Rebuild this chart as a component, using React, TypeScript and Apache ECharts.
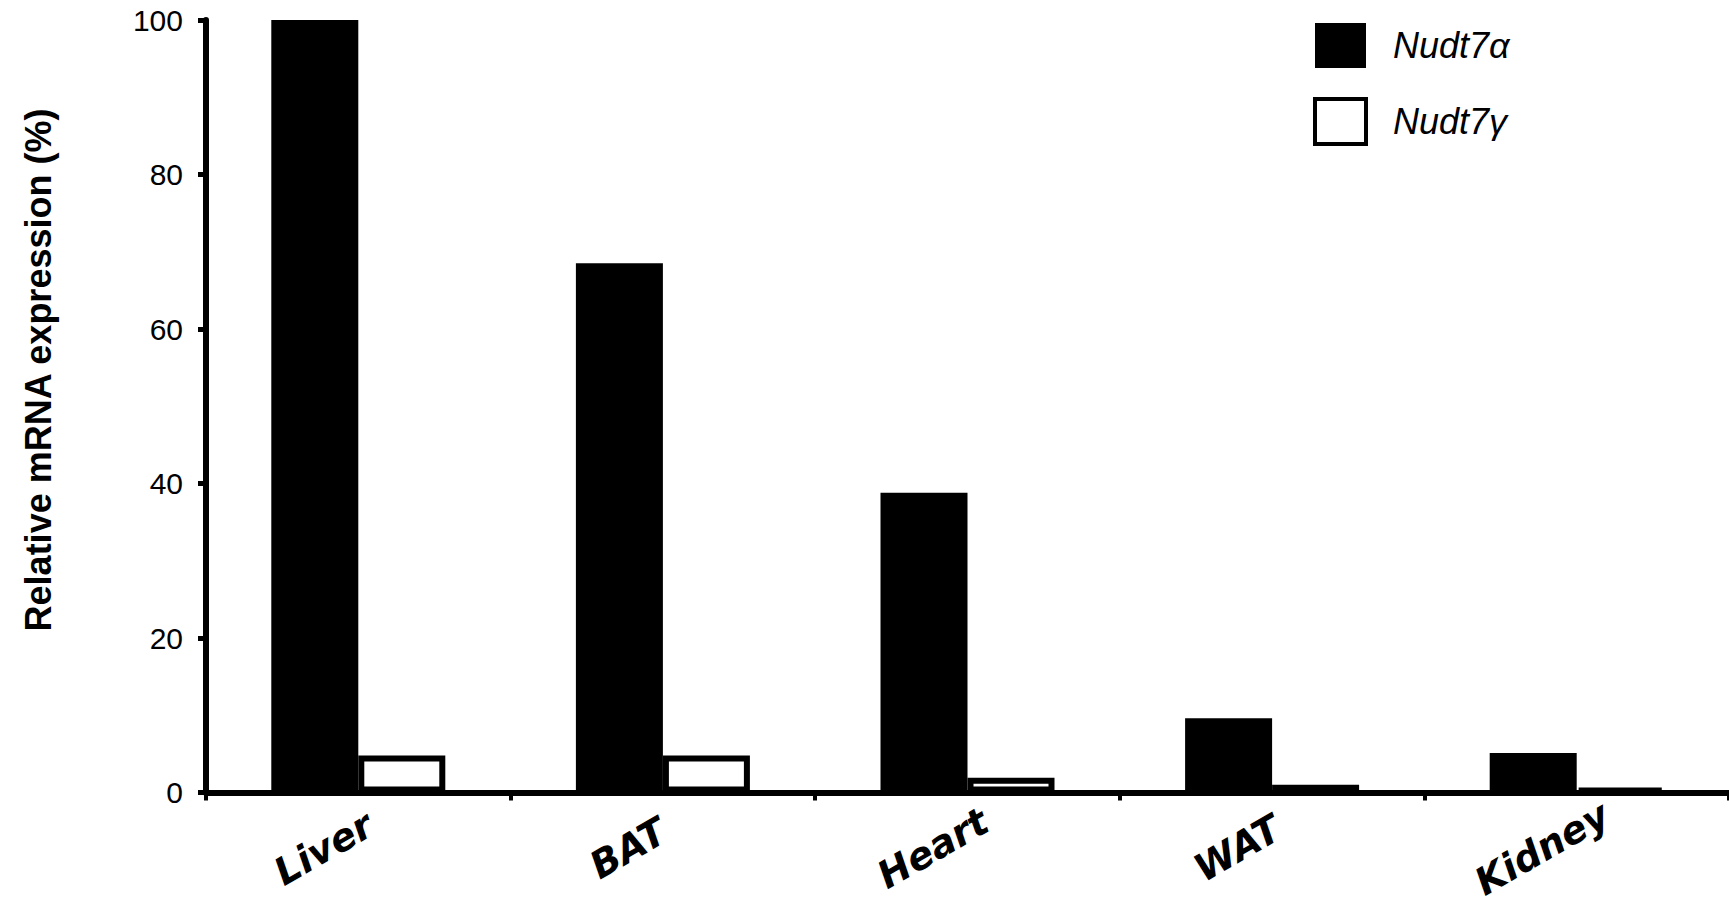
import React, { useEffect, useRef } from "react";
import * as echarts from "echarts";

const categories = ["Liver", "BAT", "Heart", "WAT", "Kidney"];
const alphaValues = [100, 68.5, 38.8, 9.6, 5.1];
const gammaValues = [4.8, 4.8, 1.9, 1.0, 0.5];
const seriesNames = ["Nudt7\u03b1", "Nudt7\u03b3"];
const yTitle = "Relative mRNA expression (%)";
const yMin = 0;
const yMax = 100;
const yInterval = 20;

const FONT = "'Liberation Sans', Arial, Helvetica, sans-serif";
const LABEL_FONT = "'DejaVu Sans', Verdana, sans-serif";

export default function App() {
  const ref = useRef<HTMLDivElement>(null);
  useEffect(() => {
    if (!ref.current) return;
    const chart = echarts.init(ref.current, undefined, { renderer: "svg" });
    chart.setOption({
      animation: false,
      backgroundColor: "#fff",
      grid: { left: 206, right: -7, top: 20, bottom: 127.5, containLabel: false },
      legend: {
        orient: "vertical",
        left: 1313,
        top: 23,
        padding: 0,
        itemWidth: 51,
        itemHeight: 45,
        itemGap: 29,
        icon: "rect",
        selectedMode: false,
        textStyle: {
          fontSize: 36,
          fontStyle: "italic",
          fontFamily: FONT,
          color: "#000",
          padding: [0, 0, 0, 22],
        },
        data: [
          { name: seriesNames[0], itemStyle: { color: "#000", borderWidth: 0 } },
          { name: seriesNames[1], itemStyle: { color: "#fff", borderColor: "#000", borderWidth: 4 } },
        ],
      },
      xAxis: {
        type: "category",
        data: categories,
        axisLine: { show: true, lineStyle: { color: "#000", width: 6 } },
        axisTick: { show: true, length: 8, lineStyle: { color: "#000", width: 4 } },
        axisLabel: {
          rotate: 30,
          align: "center",
          verticalAlign: "middle",
          padding: [0, 80, 0, 0],
          margin: 36,
          fontSize: 38,
          fontWeight: "bold",
          fontStyle: "italic",
          fontFamily: LABEL_FONT,
          color: "#000",
          interval: 0,
        },
        splitLine: { show: false },
      },
      yAxis: {
        type: "value",
        min: yMin,
        max: yMax,
        interval: yInterval,
        axisLine: { show: true, lineStyle: { color: "#000", width: 6 } },
        axisTick: { show: true, length: 8, lineStyle: { color: "#000", width: 5 } },
        axisLabel: { fontSize: 30, fontFamily: FONT, color: "#000", margin: 23 },
        splitLine: { show: false },
      },
      graphic: [
        {
          type: "text",
          x: 38.5,
          y: 370,
          rotation: Math.PI / 2,
          style: {
            text: yTitle,
            fontSize: 36,
            fontWeight: "bold",
            fontFamily: FONT,
            fill: "#000",
            align: "center",
            verticalAlign: "middle",
          },
        },
      ],
      series: [
        {
          name: seriesNames[0],
          type: "bar",
          data: alphaValues,
          barWidth: 87,
          barGap: "0%",
          itemStyle: { color: "#000" },
        },
        {
          name: seriesNames[1],
          type: "bar",
          data: gammaValues,
          barWidth: 87,
          barGap: "0%",
          itemStyle: { color: "#fff", borderColor: "#000", borderWidth: 6 },
        },
      ],
    });
    return () => chart.dispose();
  }, []);
  return (
    <div
      ref={ref}
      style={{ position: "absolute", left: 0, top: 0, width: 1729, height: 920 }}
    />
  );
}
